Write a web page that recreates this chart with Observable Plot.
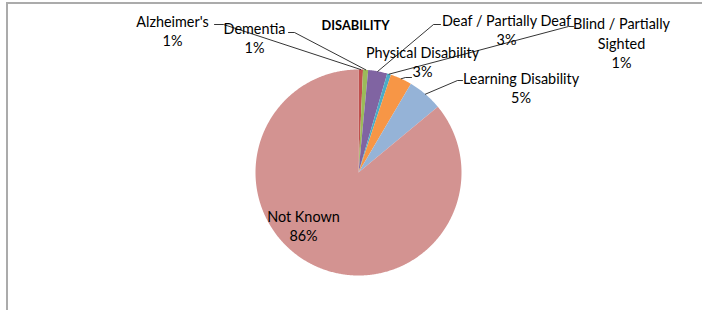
<!DOCTYPE html>
<html>
<head>
<meta charset="utf-8">
<script src="https://cdn.jsdelivr.net/npm/d3@7"></script>
<script src="https://cdn.jsdelivr.net/npm/@observablehq/plot@0.6"></script>
<style>
  html, body { margin: 0; padding: 0; background: #fff; }
  #wrap { position: relative; width: 703px; height: 310px; overflow: hidden; }
  #frame { position: absolute; left: 6px; top: 2px; width: 694px; height: 320px;
           border-top: 2px solid #ababab; border-left: 2px solid #ababab; pointer-events: none; z-index: 2; }
  #chart { position: absolute; left: 0; top: 0; }
</style>
</head>
<body>
<div id="wrap"><div id="chart"></div><div id="frame"></div></div>
<script>
// ---- data ----
const categories = ["Alzheimer's", "Dementia", "Deaf / Partially Deaf", "Blind / Partially Sighted",
                    "Physical Disability", "Learning Disability", "Not Known"];
const values = [0.7, 0.8, 3.0, 0.6, 3.4, 5.5, 86.0];
const percentLabels = ["1%", "1%", "3%", "1%", "3%", "5%", "86%"];
const labelText = ["Alzheimer's", "Dementia", "Deaf / Partially Deaf", "Blind / Partially\nSighted",
                   "Physical Disability", "Learning Disability", "Not Known"];
const title = "DISABILITY";

// ---- styles / layout ----
const sliceColors = ["#C0504D", "#9BBB59", "#8064A2", "#4BACC6", "#F79646", "#95B3D7", "#D39391"];
const R = 103;
const labelPos = [[-186, 142.5], [-104, 135], [148, 143], [263, 130], [64, 111], [162.5, 85.5], [-55, -53]];
const leaderPts = [
  [[-135, 148], [-144, 148]],
  [[-64, 140], [-70, 140]],
  [[75, 148], [82, 148]],
  [[210, 146], [215, 146]],
  [[47, 95], [53, 95]],
  [[99, 92], [104, 92]],
  null
];
const titlePos = [-3, 147];

// ---- geometry from data ----
const total = d3.sum(values);
const slices = [];
const leaders = [];
let cum = 0;
categories.forEach((name, i) => {
  const a0 = cum / total * 2 * Math.PI;
  cum += values[i];
  const a1 = cum / total * 2 * Math.PI;
  const n = Math.max(2, Math.ceil((a1 - a0) / (Math.PI / 360)));
  slices.push({name, x: 0, y: 0});
  for (let k = 0; k <= n; k++) {
    const a = a0 + (a1 - a0) * k / n;
    slices.push({name, x: R * Math.sin(a), y: R * Math.cos(a)});
  }
  slices.push({name, x: 0, y: 0});
  if (leaderPts[i]) {
    const am = (a0 + a1) / 2;
    leaders.push({name, x: R * Math.sin(am), y: R * Math.cos(am)});
    leaderPts[i].forEach(p => leaders.push({name, x: p[0], y: p[1]}));
  }
});
const labels = categories.map((name, i) => ({
  name, x: labelPos[i][0], y: labelPos[i][1], text: labelText[i] + "\n" + percentLabels[i]
}));

const chart = Plot.plot({
  width: 703, height: 310,
  marginTop: 0, marginRight: 0, marginBottom: 0, marginLeft: 0,
  x: {domain: [-358, 345], axis: null},
  y: {domain: [-138, 172], axis: null},
  color: {domain: categories, range: sliceColors},
  style: {fontFamily: "Lato, sans-serif", background: "transparent"},
  marks: [
    Plot.line(slices, {x: "x", y: "y", z: "name", fill: "name", stroke: "none", curve: "linear"}),
    Plot.line(leaders, {x: "x", y: "y", z: "name", stroke: "#000", strokeWidth: 0.8, curve: "linear"}),
    Plot.text(labels, {x: "x", y: "y", text: "text", fontSize: 14.4, lineHeight: 1.35, fill: "#000",
                       textAnchor: "middle", lineAnchor: "middle"}),
    Plot.text([title], {x: () => titlePos[0], y: () => titlePos[1], text: d => d, fontSize: 12.8,
                        fontWeight: "bold", fill: "#000", textAnchor: "middle", lineAnchor: "middle"})
  ]
});
document.getElementById("chart").appendChild(chart);
</script>
</body>
</html>
